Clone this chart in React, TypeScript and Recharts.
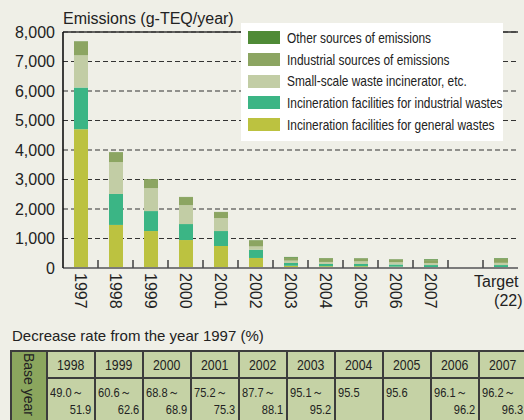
import React from "react";
import {
  BarChart,
  Bar,
  XAxis,
  YAxis,
  CartesianGrid,
  Legend,
  ReferenceLine,
} from "recharts";

// categories ("" is the empty slot before the target)
const years = ["1997", "1998", "1999", "2000", "2001", "2002", "2003", "2004", "2005", "2006", "2007", "", "Target (22)"];

// g-TEQ/year
const generalWastes = [4705, 1460, 1253, 948, 745, 340, 75, 60, 60, 45, 30, null, 30];
const industrialWastes = [1412, 1050, 677, 542, 508, 280, 95, 75, 75, 75, 70, null, 70];
const smallScale = [1094, 1080, 778, 643, 440, 110, 80, 70, 90, 75, 65, null, 75];
const industrialSources = [473, 335, 305, 271, 203, 210, 100, 125, 100, 95, 100, null, 140];
const otherSources = [5, 5, 5, 5, 5, 5, 25, 10, 10, 10, 30, null, 20];

const yTicks = [0, 1000, 2000, 3000, 4000, 5000, 6000, 7000, 8000];

// decrease rate table
const rateYears = ["1998", "1999", "2000", "2001", "2002", "2003", "2004", "2005", "2006", "2007"];
const rateLow = ["49.0", "60.6", "68.8", "75.2", "87.7", "95.1", "95.5", "95.6", "96.1", "96.2"];
const rateHigh = ["51.9", "62.6", "68.9", "75.3", "88.1", "95.2", "", "", "96.2", "96.3"];

const series = [
  { key: "general", name: "Incineration facilities for general wastes", color: "#bcc240" },
  { key: "industrial", name: "Incineration facilities for industrial wastes", color: "#3bb585" },
  { key: "small", name: "Small-scale waste incinerator, etc.", color: "#c2cda5" },
  { key: "sources", name: "Industrial sources of emissions", color: "#8ca562" },
  { key: "other", name: "Other sources of emissions", color: "#4f8a36" },
];

const data = years.map((year, i) => ({
  year,
  general: generalWastes[i],
  industrial: industrialWastes[i],
  small: smallScale[i],
  sources: industrialSources[i],
  other: otherSources[i],
}));

const FONT = '"Liberation Sans", Arial, Helvetica, sans-serif';

// condensed look without a narrow font installed
const Narrow = ({ children, origin = "left" }: { children: React.ReactNode; origin?: string }) => (
  <span
    style={{
      display: "inline-block",
      transform: "scaleX(0.82)",
      transformOrigin: origin,
      whiteSpace: "nowrap",
    }}
  >
    {children}
  </span>
);

const CategoryTick = (props: any) => {
  const { x, y, payload, index } = props;
  const half = payload.offset || 0;
  const label: string = payload.value;
  const sep =
    index > 0 ? (
      <line x1={x - half} x2={x - half} y1={y} y2={y - 8} stroke="#4a4a4a" strokeWidth={1.6} />
    ) : null;
  if (label.startsWith("Target")) {
    const [a, b] = label.split(" ");
    return (
      <g>
        {sep}
        <text x={x + 18} y={y + 19} textAnchor="end" fontSize={16} fontFamily={FONT} fill="#222">
          {a}
        </text>
        <text x={x + 22} y={y + 38} textAnchor="end" fontSize={16} fontFamily={FONT} fill="#222">
          {b}
        </text>
      </g>
    );
  }
  return (
    <g>
      {sep}
      {label && (
        <text
          transform={`translate(${x},${y + 5}) rotate(90)`}
          dy="0.35em"
          textAnchor="start"
          fontSize={16}
          fontFamily={FONT}
          fill="#222"
        >
          {label}
        </text>
      )}
    </g>
  );
};

const LegendBox = (props: any) => {
  const order = series.map((s) => s.key);
  const items = [...(props.payload || [])].sort(
    (a: any, b: any) => order.indexOf(b.dataKey) - order.indexOf(a.dataKey)
  );
  return (
    <div
      style={{
        background: "#fff",
        width: 262,
        height: 118,
        boxSizing: "border-box",
        padding: "4px 0 0 7px",
        overflow: "hidden",
      }}
    >
      {items.map((it: any) => (
        <div key={it.dataKey} style={{ display: "flex", alignItems: "center", height: 21.7 }}>
          <span style={{ width: 32, height: 13, background: it.color, marginRight: 7, flex: "none" }} />
          <span style={{ fontFamily: FONT, fontSize: 14.5, color: "#222" }}>
            <Narrow>{it.value}</Narrow>
          </span>
        </div>
      ))}
    </div>
  );
};

const cell: React.CSSProperties = {
  border: "2px solid #3c3c3c",
  background: "#c5d2a5",
  padding: 0,
  color: "#222",
  fontFamily: FONT,
};

export default function App() {
  return (
    <div
      style={{
        position: "absolute",
        left: 0,
        top: 0,
        width: 524,
        height: 420,
        background: "#efefe7",
        overflow: "hidden",
        fontFamily: FONT,
      }}
    >
      <div style={{ position: "absolute", left: 63, top: 10, fontSize: 16, color: "#222", whiteSpace: "nowrap" }}>
        Emissions (g-TEQ/year)
      </div>
      <BarChart
        width={524}
        height={310}
        data={data}
        margin={{ top: 32, right: 6, left: 0, bottom: 0 }}
        barSize={14}
      >
        <CartesianGrid vertical={false} stroke="#333" strokeDasharray="5 3" strokeWidth={1.2} />
        <XAxis
          dataKey="year"
          height={42}
          tickSize={0}
          tickMargin={0}
          tickLine={false}
          interval={0}
          axisLine={{ stroke: "#7a7a7a", strokeWidth: 2 }}
          tick={<CategoryTick />}
        />
        <YAxis
          width={63}
          domain={[0, 8000]}
          ticks={yTicks}
          interval={0}
          tickLine={false}
          axisLine={{ stroke: "#111", strokeWidth: 1.6 }}
          tickFormatter={(v: number) => v.toLocaleString("en-US")}
          tick={{ fill: "#222", fontSize: 16, fontFamily: FONT }}
        />
        <YAxis
          yAxisId="frame"
          orientation="right"
          width={0}
          domain={[0, 1]}
          tick={false}
          tickLine={false}
          axisLine={{ stroke: "#444", strokeWidth: 1.6 }}
        />
        <ReferenceLine y={8000} stroke="#333" strokeWidth={1.6} />
        {series.map((s) => (
          <Bar
            key={s.key}
            dataKey={s.key}
            name={s.name}
            stackId="a"
            fill={s.color}
            isAnimationActive={false}
          />
        ))}
        <Legend
          layout="vertical"
          align="center"
          verticalAlign="middle"
          content={<LegendBox />}
          wrapperStyle={{ top: 23, left: 241, width: 262, height: 118 }}
        />
      </BarChart>
      <div style={{ position: "absolute", left: 12, top: 327, fontSize: 15, color: "#222", whiteSpace: "nowrap" }}>
        Decrease rate from the year 1997 (%)
      </div>
      <table
        style={{
          position: "absolute",
          left: 10,
          top: 350,
          borderCollapse: "collapse",
          tableLayout: "fixed",
          width: 518,
          fontFamily: FONT,
        }}
      >
        <colgroup>
          <col style={{ width: 36 }} />
          {rateYears.map((y) => (
            <col key={y} style={{ width: 48 }} />
          ))}
        </colgroup>
        <tbody>
          <tr style={{ height: 27 }}>
            <td
              rowSpan={2}
              style={{
                ...cell,
                background: "#8ba65e",
                verticalAlign: "top",
                textAlign: "center",
              }}
            >
              <div
                style={{
                  writingMode: "vertical-rl",
                  fontSize: 14,
                  margin: "1px auto 0",
                  lineHeight: "20px",
                  whiteSpace: "nowrap",
                }}
              >
                Base year
              </div>
            </td>
            {rateYears.map((y) => (
              <td key={y} style={{ ...cell, textAlign: "center", fontSize: 15 }}>
                <Narrow origin="center">{y}</Narrow>
              </td>
            ))}
          </tr>
          <tr style={{ height: 46 }}>
            {rateLow.map((lo, i) => (
              <td
                key={rateYears[i]}
                style={{ ...cell, verticalAlign: "top", fontSize: 13.5, lineHeight: "17px" }}
              >
                <div style={{ padding: "5px 3px 0 2px" }}>
                  <div style={{ textAlign: "left" }}>
                    <Narrow origin="left">
                      {lo}
                      {rateHigh[i] ? "～" : ""}
                    </Narrow>
                  </div>
                  <div style={{ textAlign: "right" }}>
                    <Narrow origin="right">{rateHigh[i]}</Narrow>
                  </div>
                </div>
              </td>
            ))}
          </tr>
        </tbody>
      </table>
    </div>
  );
}
